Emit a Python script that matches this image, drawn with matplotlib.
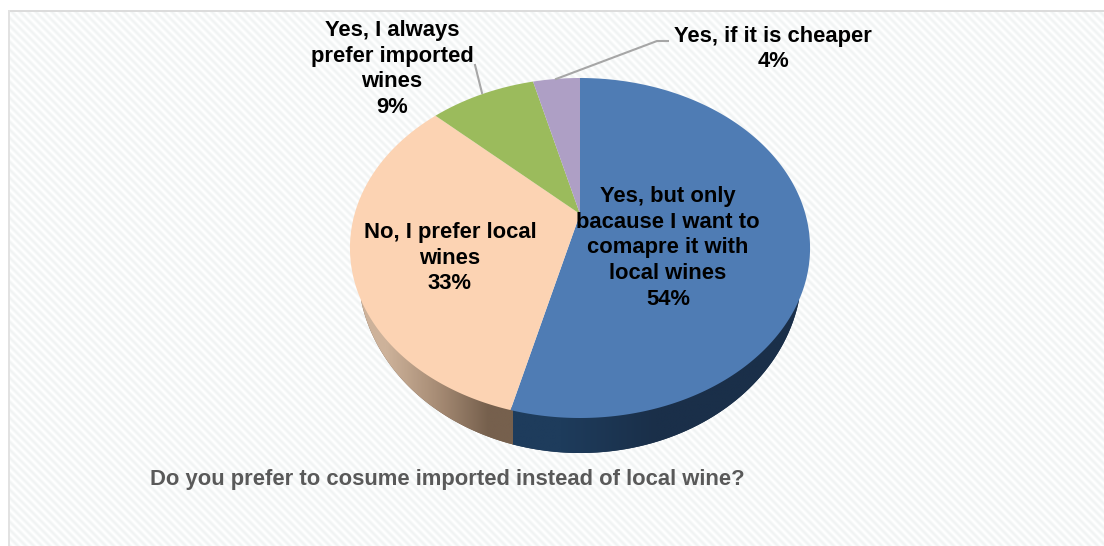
import numpy as np
import matplotlib
matplotlib.use('Agg')
import matplotlib.pyplot as plt
from matplotlib.patches import Polygon, Rectangle

labels = ['Yes, but only\nbacause I want to\ncomapre it with\nlocal wines',
          'No, I prefer local\nwines',
          'Yes, I always\nprefer imported\nwines',
          'Yes, if it is cheaper']
values = [54, 33, 9, 4]
colors = ['#4f7cb4', '#fcd3b3', '#9bbb5c', '#ae9fc5']
title = 'Do you prefer to cosume imported instead of local wine?'

W, H = 1104, 546

# pie geometry in pixels, seen in perspective
cx, cy = 580, 214
tilt = 0.2
sx, sy = 225.4, 163.2
# lower rim of the side wall
rim_cy, rim_rx, rim_ry = 270, 222, 183


def project(a):
    # a is the clockwise angle from 12 o'clock on the flat pie
    u, v = np.sin(a), np.cos(a)
    k = 1 + tilt * v
    return cx + sx * u / k, cy - sy * v / k


def top_edge(x):
    return 248 + 170 * np.sqrt(np.clip(1 - ((x - 580) / 230) ** 2, 0, None))


def rim_edge(x):
    return rim_cy + rim_ry * np.sqrt(np.clip(1 - ((x - cx) / rim_rx) ** 2, 0, None))


plt.rcParams['font.family'] = ['Liberation Sans', 'DejaVu Sans']
fig = plt.figure(figsize=(W / 100, H / 100), dpi=100)
ax = fig.add_axes([0, 0, 1, 1])
ax.set_xlim(0, W)
ax.set_ylim(H, 0)
ax.axis('off')

# striped panel with a thin frame on the top and left
yy, xx = np.mgrid[12:H, 10:W]
stripes = 0.5 + 0.5 * np.cos(2 * np.pi * (xx - yy) / 8)
shade = 1 - stripes[..., None] * (1 - np.array([0.945, 0.955, 0.955]))
ax.imshow(shade, extent=(10, W, H, 12), zorder=0, aspect='auto', interpolation='nearest')
ax.add_patch(Rectangle((8, 10), W, 2.2, fc='#dcdcdc', ec='none', zorder=1))
ax.add_patch(Rectangle((8, 10), 2.2, H, fc='#e2e2e2', ec='none', zorder=1))
ax.set_xlim(0, W)
ax.set_ylim(H, 0)

shares = np.array(values) / sum(values)
ends = np.cumsum(shares) * 2 * np.pi
starts = ends - shares * 2 * np.pi

# side wall: dark blue for the first slice, brown for the second
split_x = project(ends[0])[0] + 2
xs_all = np.linspace(cx - 219, cx + 219, 900)
side_parts = [
    (xs_all[xs_all <= split_x + 1], ['#cdb29a', '#a78c75', '#76604d']),
    (xs_all[xs_all >= split_x], ['#1e3c5c', '#1a2f49', '#1a2f49']),
]
for xs, ramp in side_parts:
    pts = np.r_[np.c_[xs, rim_edge(xs)], np.c_[xs[::-1], top_edge(xs[::-1]) - 3]]
    poly = Polygon(pts, fc=ramp[-1], ec='none', zorder=2)
    ax.add_patch(poly)
    grad = np.array([matplotlib.colors.to_rgb(c) for c in ramp])[None, ...]
    im = ax.imshow(grad, extent=(xs[0], xs[-1], 460, 280), aspect='auto',
                   interpolation='bilinear', zorder=2.1)
    im.set_clip_path(poly)
ax.set_xlim(0, W)
ax.set_ylim(H, 0)

# top surface slices
for start, end, color in zip(starts, ends, colors):
    a = np.linspace(start, end, 300)
    px, py = project(a)
    pts = np.r_[[[cx, cy]], np.c_[px, py]]
    ax.add_patch(Polygon(pts, fc=color, ec='none', zorder=3))

# leader lines of the two outer labels
ax.plot([475, 482], [65, 93], color='#a6a6a6', lw=1.5, zorder=4)
ax.plot([668, 657, 556], [41, 41, 79], color='#a6a6a6', lw=1.5, zorder=4)

label_pos = [(668, 248), (450, 258), (392, 69), (773, 49)]
for name, val, (x, y) in zip(labels, values, label_pos):
    ax.text(x, y, f'{name}\n{val}%', ha='center', va='center', fontsize=15.8,
            fontweight='bold', color='black', linespacing=1.31, zorder=5)

ax.text(150, 479, title, ha='left', va='center', fontsize=15.8, fontweight='bold',
        color='#595959', zorder=5)

fig.savefig('out.png', dpi=100)
